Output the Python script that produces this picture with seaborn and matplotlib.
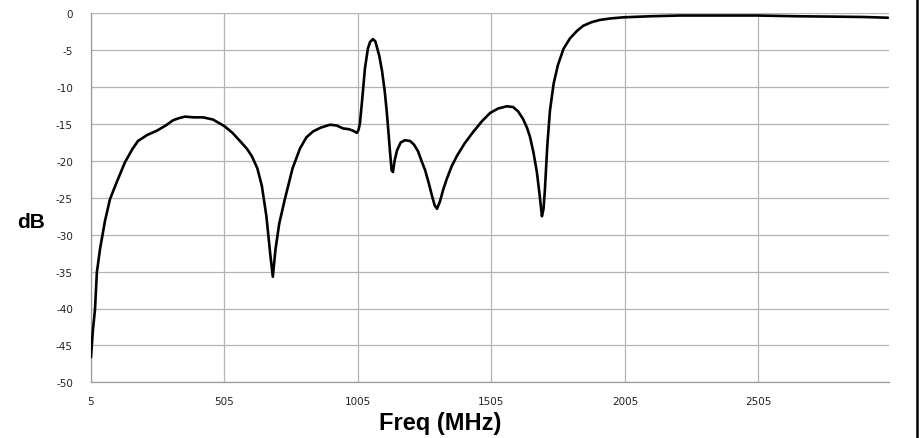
import numpy as np
import pandas as pd
import matplotlib
matplotlib.use("Agg")
import matplotlib.pyplot as plt
from matplotlib.lines import Line2D
import seaborn as sns

# Return loss curve
freq_mhz = [5, 12, 20, 27, 39, 57, 76, 100, 132, 160, 181, 215, 252, 285, 312, 335,
            357, 390, 425, 462, 505, 535, 563, 590, 608, 628, 645, 662, 676, 686,
            696, 710, 731, 760, 788, 812, 837, 865, 900, 925, 949, 970, 986, 1001,
            1007, 1012, 1020, 1031, 1042, 1050, 1061, 1070, 1076, 1085, 1095, 1105,
            1113, 1120, 1125, 1131, 1136, 1142, 1151, 1165, 1181, 1200, 1215, 1230,
            1245, 1256, 1270, 1282, 1292, 1301, 1312, 1325, 1338, 1355, 1376, 1405,
            1436, 1470, 1500, 1530, 1563, 1586, 1605, 1623, 1638, 1649, 1662, 1675,
            1685, 1694, 1700, 1705, 1714, 1724, 1738, 1754, 1775, 1799, 1825, 1848,
            1880, 1911, 1950, 1997, 2100, 2211, 2350, 2500, 2650, 2784, 2900, 2990]
level_db = [-46.6, -43.0, -40.1, -35.1, -31.9, -28.2, -25.2, -23.0, -20.2, -18.4,
            -17.3, -16.5, -15.9, -15.2, -14.5, -14.2, -14.0, -14.1, -14.1, -14.4,
            -15.3, -16.2, -17.3, -18.4, -19.4, -21.0, -23.4, -27.5, -32.5, -35.7,
            -32.0, -28.5, -25.2, -21.0, -18.3, -16.8, -16.0, -15.5, -15.1, -15.2,
            -15.6, -15.7, -15.9, -16.2, -15.8, -15.0, -12.0, -7.5, -4.8, -3.9,
            -3.5, -3.8, -4.6, -5.8, -7.8, -10.5, -13.4, -16.5, -18.8, -21.3,
            -21.5, -20.0, -18.6, -17.5, -17.2, -17.3, -17.8, -18.7, -20.2, -21.2,
            -23.0, -24.7, -26.0, -26.5, -25.5, -23.8, -22.4, -20.8, -19.3, -17.6,
            -16.1, -14.6, -13.5, -12.9, -12.6, -12.7, -13.3, -14.3, -15.5, -16.7,
            -18.8, -21.5, -24.5, -27.5, -26.5, -24.0, -18.0, -13.2, -9.5, -7.0,
            -4.8, -3.4, -2.4, -1.7, -1.2, -0.9, -0.7, -0.55, -0.4, -0.3,
            -0.3, -0.3, -0.4, -0.45, -0.5, -0.6]

x_ticks = [5, 505, 1005, 1505, 2005, 2505]
y_ticks = [0, -5, -10, -15, -20, -25, -30, -35, -40, -45, -50]

df = pd.DataFrame({"freq": freq_mhz, "db": level_db})

sns.set_style("white")
plt.rcParams["font.family"] = ["DejaVu Sans"]
plt.rcParams["axes.unicode_minus"] = False

fig = plt.figure(figsize=(9.22, 4.39), dpi=100)
ax = fig.add_axes([91 / 922, 1 - 383.3 / 439, (889 - 91) / 922, (383.3 - 14.3) / 439])

sns.lineplot(data=df, x="freq", y="db", color="black", linewidth=1.9, ax=ax, zorder=3)

ax.set_xlim(5, 2994)
ax.set_ylim(-50, 0)
ax.set_xticks(x_ticks)
ax.set_yticks(y_ticks)
ax.grid(True, color="#b4b4b4", linewidth=0.9)
ax.set_axisbelow(True)
for side in ["top", "right"]:
    ax.spines[side].set_visible(False)
for side in ["left", "bottom"]:
    ax.spines[side].set_color("#9a9a9a")
    ax.spines[side].set_linewidth(0.9)
ax.tick_params(axis="both", direction="out", length=4, width=0.9, color="#9a9a9a",
               labelsize=7.5, labelcolor="#222222")
ax.tick_params(axis="y", pad=9)
ax.tick_params(axis="x", pad=6)
ax.set_xlabel("")
ax.set_ylabel("")

fig.text(440 / 922, 1 - 424 / 439, "Freq (MHz)", ha="center", va="center", color="black",
         fontsize=17, fontweight="bold", family=["Liberation Sans"])
fig.text(31 / 922, 1 - 222 / 439, "dB", ha="center", va="center", color="black",
         fontsize=15, fontweight="bold", family=["Liberation Sans"])

fig.add_artist(Line2D([917 / 922, 917 / 922], [0, 1], color="black", linewidth=1.8))

fig.savefig("out.png", dpi=100)
plt.close(fig)
